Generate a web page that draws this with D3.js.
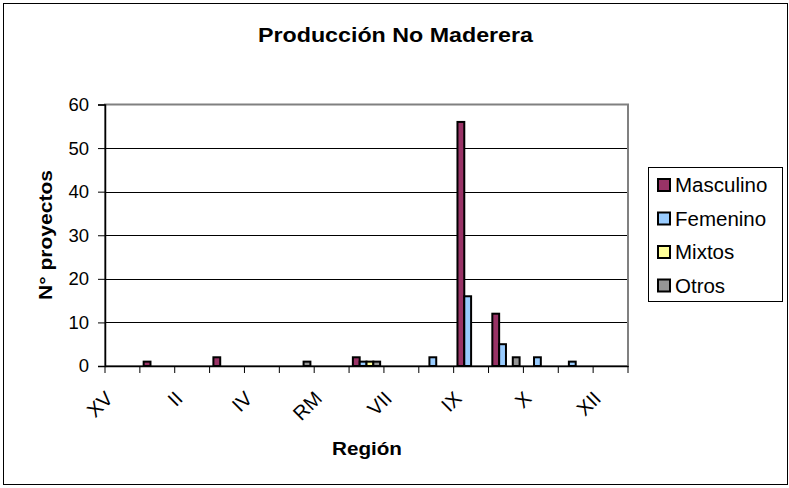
<!DOCTYPE html>
<html><head><meta charset="utf-8">
<script src="https://cdn.jsdelivr.net/npm/d3@7"></script>
<style>body{margin:0;background:#fff}svg{display:block}svg text{font-family:"Liberation Sans",Arial,sans-serif}</style>
</head><body>
<svg id="c" width="789" height="488"></svg>
<script>
const categories = ["XV","I","II","III","IV","V","RM","VI","VII","VIII","IX","XIV","X","XI","XII"];
const seriesNames = ["Masculino","Femenino","Mixtos","Otros"];
const masculino = [0,1,0,2,0,0,0,2,0,0,56,12,0,0,0];
const femenino  = [0,0,0,0,0,0,0,1,0,2,16,5,2,1,0];
const mixtos    = [0,0,0,0,0,0,0,1,0,0,0,0,0,0,0];
const otros     = [0,0,0,0,0,1,0,1,0,0,0,2,0,0,0];
const yTicks = [0,10,20,30,40,50,60];
const colors = ["#993366","#99CCFF","#FFFF99","#969696"];

const series = [masculino, femenino, mixtos, otros];
const svg = d3.select("#c");
const L = 105, R = 628, T = 104.5, B = 366;

svg.append("rect").attr("x",3.5).attr("y",3.5).attr("width",784).attr("height",481)
  .attr("fill","#fff").attr("stroke","#000").attr("stroke-width",1);

const x0 = d3.scaleBand().domain(categories).range([L,R]).padding(0);
const cw = x0.bandwidth();
const x1 = d3.scaleBand().domain(seriesNames).range([3.8, cw-3.8]).padding(0);
const y = d3.scaleLinear().domain([0,60]).range([B,T]);

// gridlines
svg.append("g").selectAll("line").data(yTicks.filter(v=>v>0&&v<60)).join("line")
  .attr("x1",L).attr("x2",R).attr("y1",d=>Math.round(y(d))+0.5).attr("y2",d=>Math.round(y(d))+0.5)
  .attr("stroke","#000").attr("stroke-width",1);

// plot border
svg.append("rect").attr("x",L).attr("y",T).attr("width",R-L).attr("height",B-T)
  .attr("fill","none").attr("stroke","#808080").attr("stroke-width",2);

// bars
const bars = [];
series.forEach((s,si)=>s.forEach((v,ci)=>{ if(v>0) bars.push({si,ci,v}); }));
svg.append("g").selectAll("rect").data(bars).join("rect")
  .attr("x",d=>x0(categories[d.ci])+x1(seriesNames[d.si]))
  .attr("width",x1.bandwidth())
  .attr("y",d=>y(d.v)).attr("height",d=>B-y(d.v))
  .attr("fill",d=>colors[d.si]).attr("stroke","#000").attr("stroke-width",2);

// y axis
const ya = d3.axisLeft(y).tickValues(yTicks).tickSize(7).tickPadding(9);
const yg = svg.append("g").attr("transform",`translate(${L},0)`).call(ya);
yg.attr("font-family",null);
yg.select(".domain").attr("stroke","#000").attr("stroke-width",1.5);
yg.selectAll(".tick line").attr("stroke","#000");
yg.selectAll("text").attr("font-size",18.5).attr("fill","#000");

// x axis
const xa = d3.axisBottom(x0).tickSize(0).tickFormat("");
const xg = svg.append("g").attr("transform",`translate(0,${B})`).call(xa);
xg.select(".domain").attr("stroke","#000").attr("stroke-width",1.5);
const tickPos = categories.map(c=>x0(c)).concat([R]);
svg.append("g").selectAll("line").data(tickPos).join("line")
  .attr("x1",d=>d).attr("x2",d=>d).attr("y1",B).attr("y2",B+7).attr("stroke","#000");
svg.append("g").selectAll("text").data(categories.filter((c,i)=>i%2===0)).join("text")
  .attr("transform",d=>`translate(${x0(d)+cw/2-12},${B+30}) rotate(-45)`)
  .attr("text-anchor","end").attr("dominant-baseline","middle")
  .attr("font-size",20).text(d=>d);

// titles
svg.append("text").attr("x",395.5).attr("y",42).attr("text-anchor","middle")
  .attr("font-size",21).attr("font-weight","bold").attr("textLength",275).attr("lengthAdjust","spacingAndGlyphs")
  .text("Producción No Maderera");
svg.append("text").attr("x",367).attr("y",455).attr("text-anchor","middle")
  .attr("font-size",18.5).attr("font-weight","bold").attr("textLength",70).attr("lengthAdjust","spacingAndGlyphs")
  .text("Región");
svg.append("text").attr("transform","translate(52,235) rotate(-90)").attr("text-anchor","middle")
  .attr("font-size",19).attr("font-weight","bold").attr("textLength",130).attr("lengthAdjust","spacingAndGlyphs")
  .text("N° proyectos");

// legend
const lg = svg.append("g");
lg.append("rect").attr("x",648.5).attr("y",167.5).attr("width",134).attr("height",134)
  .attr("fill","#fff").attr("stroke","#000").attr("stroke-width",1);
const items = lg.selectAll("g.it").data(seriesNames).join("g").attr("class","it")
  .attr("transform",(d,i)=>`translate(0,${185+i*33.5})`);
items.append("rect").attr("x",658).attr("y",-6).attr("width",12).attr("height",12)
  .attr("fill",(d,i)=>colors[i]).attr("stroke","#000").attr("stroke-width",2);
items.append("text").attr("x",675).attr("y",7).attr("font-size",20.5).text(d=>d);
</script>
</body></html>
